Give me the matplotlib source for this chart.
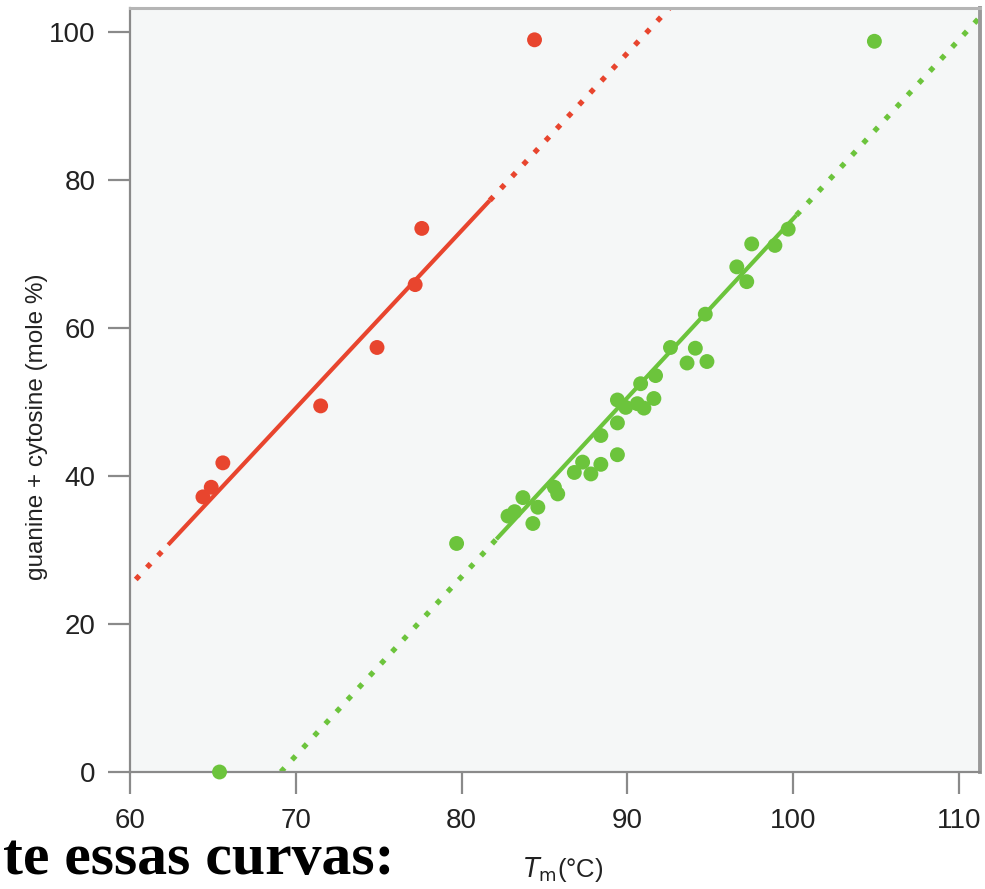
import numpy as np
import matplotlib.pyplot as plt

# data
red_tm = [64.4, 64.9, 65.6, 71.5, 74.9, 77.2, 77.6, 84.4]
red_gc = [37.2, 38.5, 41.8, 49.5, 57.4, 65.9, 73.5, 99.0]

green_tm = [65.4, 79.7, 82.8, 83.2, 83.7, 84.3, 84.6, 85.6, 85.8, 86.8, 87.3, 87.8,
            88.4, 88.4, 89.4, 89.4, 89.4, 89.9, 90.6, 91.0, 91.6, 90.8, 91.7, 92.6,
            93.6, 94.1, 94.8, 94.7, 96.6, 97.2, 97.5, 98.9, 99.7, 104.9]
green_gc = [0.0, 30.9, 34.6, 35.2, 37.1, 33.6, 35.8, 38.5, 37.6, 40.5, 41.9, 40.3,
            41.6, 45.5, 42.9, 47.2, 50.3, 49.3, 49.8, 49.2, 50.5, 52.5, 53.6, 57.4,
            55.3, 57.3, 55.5, 61.9, 68.3, 66.3, 71.4, 71.2, 73.4, 98.8]

# fitted lines: slope, intercept, solid range, dotted range
red_fit = (2.40, -118.8)
red_solid = (62.3, 81.7)
red_dot = (59.0, 94.0)
green_fit = (2.42, -167.2)
green_solid = (82.1, 100.2)
green_dot = (69.1, 112.0)

red = '#e8452e'
green = '#6cc43c'

fig = plt.figure(figsize=(9.85, 8.89), dpi=100)
ax = fig.add_axes([130/985, 117/889, 850/985, 764/889])
ax.set_facecolor('#f5f7f7')

def draw_fit(fit, solid, dot, color):
    a, b = fit
    for lo, hi in [(dot[0], solid[0]), (solid[1], dot[1])]:
        xs = np.array([lo, hi])
        ax.plot(xs, a * xs + b, color=color, lw=3.8, linestyle=(0, (1, 2.1)),
                dash_capstyle='butt', zorder=2)
    xs = np.array(solid)
    ax.plot(xs, a * xs + b, color=color, lw=3.0, solid_capstyle='butt', zorder=2)

draw_fit(red_fit, red_solid, red_dot, red)
draw_fit(green_fit, green_solid, green_dot, green)

ax.scatter(red_tm, red_gc, s=115, color=red, edgecolors='none', zorder=3, clip_on=False)
ax.scatter(green_tm, green_gc, s=115, color=green, edgecolors='none', zorder=3, clip_on=False)

ax.set_xlim(60, 111.27)
ax.set_ylim(0, 103.3)
ax.set_xticks([60, 70, 80, 90, 100, 110])
ax.set_yticks([0, 20, 40, 60, 80, 100])

for side in ['left', 'bottom']:
    ax.spines[side].set_color('#8a8a8a')
    ax.spines[side].set_linewidth(1.6)
ax.spines['top'].set_color('#b5b5b5')
ax.spines['top'].set_linewidth(2.2)
ax.spines['right'].set_color('#999999')
ax.spines['right'].set_linewidth(2.8)

ax.tick_params(axis='both', direction='out', length=16, width=1.6, color='#8a8a8a',
               labelsize=20, labelcolor='#222222')
ax.tick_params(axis='x', pad=10)
ax.tick_params(axis='y', pad=9)
for lab in ax.get_xticklabels() + ax.get_yticklabels():
    lab.set_family('Liberation Sans')

fig.text(37/985, 1 - 427/889, 'guanine + cytosine (mole %)', rotation=90,
         ha='center', va='center', fontsize=17.5, family='Liberation Sans', color='#222222')
fig.text(563/985, 1 - 870/889, r'$\mathit{T}_{\rm m}$(°C)', ha='center', va='center',
         fontsize=18.5, family='Liberation Sans', color='#222222')
fig.text(3/985, 15/889, 'te essas curvas:', ha='left', va='baseline', fontsize=43,
         family='Liberation Serif', fontweight='bold', color='black')

fig.savefig('out.png', dpi=100)
